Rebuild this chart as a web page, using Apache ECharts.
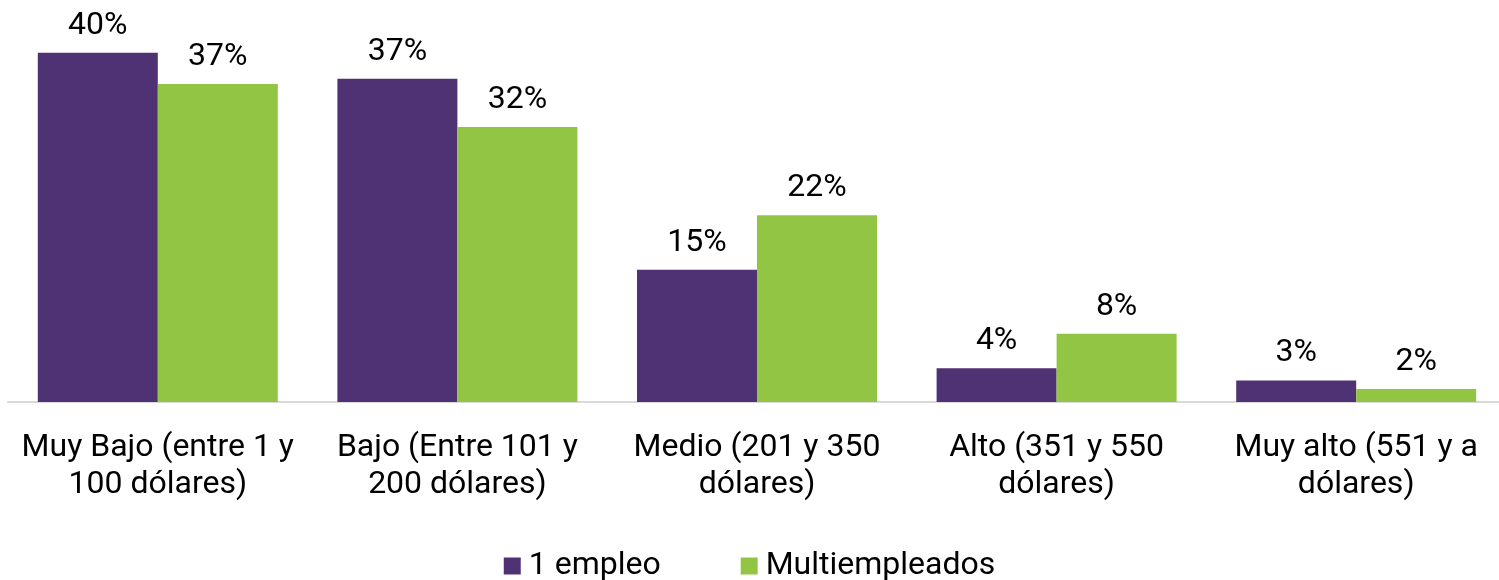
<!DOCTYPE html>
<html>
<head>
<meta charset="utf-8">
<script src="https://cdn.jsdelivr.net/npm/echarts@6/dist/echarts.min.js"></script>
<style>
  html, body { margin: 0; padding: 0; background: #fff; }
  #chart { width: 1499px; height: 580px; }
</style>
</head>
<body>
<div id="chart"></div>
<script>
// categorias (rangos de ingreso)
const categories = [
    'Muy Bajo (entre 1 y\n100 dólares)',
    'Bajo (Entre 101 y\n200 dólares)',
    'Medio (201 y 350\ndólares)',
    'Alto (351 y 550\ndólares)',
    'Muy alto (551 y a\ndólares)'
];
const seriesNames = ['1 empleo', 'Multiempleados'];
const unEmpleo = [40.4, 37.4, 15.3, 3.9, 2.5];
const multiempleados = [36.8, 31.8, 21.6, 7.9, 1.5];

const purple = '#4F3273';
const green = '#92C543';
const font = 'Roboto';

const Chart = echarts.init(document.getElementById('chart'), null, { renderer: 'canvas' });

const labelStyle = {
    show: true,
    position: 'top',
    distance: 11,
    fontFamily: font,
    fontSize: 32,
    color: '#000',
    formatter: p => Math.round(p.value) + '%'
};

const option = {
    animation: false,
    backgroundColor: '#fff',
    grid: {
        left: 8,
        width: 1498,
        top: 13,
        bottom: 178,
        outerBoundsMode: 'none'
    },
    legend: {
        top: 545,
        left: 'center',
        itemWidth: 17,
        itemHeight: 17,
        itemGap: 80,
        icon: 'rect',
        textStyle: { fontFamily: font, fontSize: 32, color: '#000', padding: [0, 0, 0, 3] },
        data: seriesNames
    },
    xAxis: {
        type: 'category',
        data: categories,
        axisLine: { lineStyle: { color: '#d9d9d9', width: 2 } },
        axisTick: { show: false },
        axisLabel: {
            fontFamily: font,
            fontSize: 32,
            color: '#000',
            lineHeight: 37,
            margin: 27,
            interval: 0
        }
    },
    yAxis: {
        type: 'value',
        min: 0,
        max: 45,
        show: false,
        splitLine: { show: false }
    },
    series: [
        {
            name: seriesNames[0],
            type: 'bar',
            data: unEmpleo,
            barWidth: 120,
            barGap: '0%',
            itemStyle: { color: purple },
            label: labelStyle
        },
        {
            name: seriesNames[1],
            type: 'bar',
            data: multiempleados,
            barWidth: 120,
            itemStyle: { color: green },
            label: labelStyle
        }
    ]
};

Chart.setOption(option);
</script>
</body>
</html>
